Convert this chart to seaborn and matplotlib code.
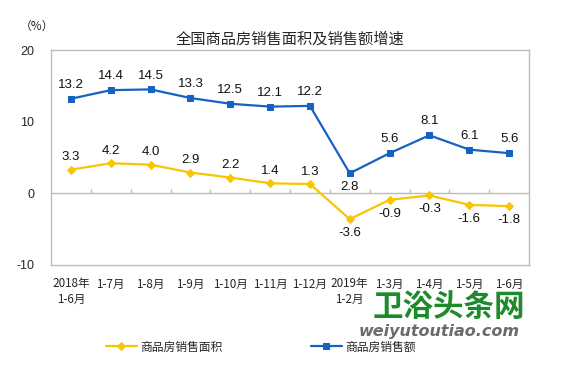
import matplotlib
matplotlib.use("Agg")
import matplotlib.pyplot as plt
import seaborn as sns
import numpy as np
import pandas as pd

categories = ["2018年\n1-6月", "1-7月", "1-8月", "1-9月", "1-10月", "1-11月", "1-12月",
              "2019年\n1-2月", "1-3月", "1-4月", "1-5月", "1-6月"]
area_growth = [3.3, 4.2, 4.0, 2.9, 2.2, 1.4, 1.3, -3.6, -0.9, -0.3, -1.6, -1.8]
sales_growth = [13.2, 14.4, 14.5, 13.3, 12.5, 12.1, 12.2, 2.8, 5.6, 8.1, 6.1, 5.6]
area_label_pos = ["up"] * 7 + ["down"] * 5
sales_label_pos = ["up"] * 7 + ["down"] + ["up"] * 4
series_names = ["商品房销售面积", "商品房销售额"]
yticks = [-10, 0, 10, 20]

sns.set_theme(style="white")
plt.rcParams['font.family'] = ['Noto Sans CJK SC', 'DejaVu Sans']
plt.rcParams['axes.unicode_minus'] = False

YELLOW = "#F7C600"
BLUE = "#1562C2"

fig = plt.figure(figsize=(5.67, 3.65), dpi=100)
ax = fig.add_axes([0.09, 0.274, 0.843, 0.589])

x = np.arange(len(categories))
df = pd.DataFrame({"x": x, "area": area_growth, "sales": sales_growth})

sns.lineplot(data=df, x="x", y="area", ax=ax, color=YELLOW, marker="D", markersize=4.5,
             markeredgecolor=YELLOW, linewidth=1.6, label=series_names[0], legend=False)
sns.lineplot(data=df, x="x", y="sales", ax=ax, color=BLUE, marker="s", markersize=5,
             markeredgecolor=BLUE, linewidth=1.6, label=series_names[1], legend=False)

lab_font = dict(family=['Liberation Sans', 'DejaVu Sans'], fontsize=9.5, color="#111111")
for xi, v, p in zip(x, area_growth, area_label_pos):
    off = 9 if p == "up" else -10
    ax.annotate(f"{v:.1f}", (xi, v), xytext=(0, off), textcoords="offset points",
                ha="center", va="center", **lab_font)
for xi, v, p in zip(x, sales_growth, sales_label_pos):
    off = 10 if p == "up" else -10
    ax.annotate(f"{v:.1f}", (xi, v), xytext=(0, off), textcoords="offset points",
                ha="center", va="center", **lab_font)

ax.set_xlim(-0.5, len(categories) - 0.5)
ax.set_ylim(-10, 20)
ax.set_yticks(yticks)
ax.set_yticklabels([str(t) for t in yticks], family=['Liberation Sans', 'DejaVu Sans'], fontsize=9)
ax.set_xticks(x)
ax.set_xticklabels(categories, fontsize=8.4, linespacing=1.25)
ax.tick_params(axis="x", length=0, pad=9)
ax.tick_params(axis="y", length=0, pad=12)
ax.set_xlabel("")
ax.set_ylabel("")

for s in ax.spines.values():
    s.set_color("#BBBBBB")
    s.set_linewidth(1.0)

ax.axhline(0, color="#BBBBBB", linewidth=1.0, zorder=1)
bounds = np.arange(0.5, len(categories) - 0.5, 1.0)
ax.vlines(bounds, 0, 0.6, color="#BBBBBB", linewidth=1.0, zorder=1)

fig.text(0.512, 0.893, "全国商品房销售面积及销售额增速", ha="center", va="center", fontsize=11)
fig.text(0.065, 0.928, "（%）", ha="center", va="center", fontsize=8.5)

handles, labels = ax.get_legend_handles_labels()
fig.legend(handles, labels, loc="center", bbox_to_anchor=(0.46, 0.049), ncol=2, frameon=False,
           fontsize=8.5, handlelength=2.6, columnspacing=7.5, handletextpad=0.3)

fig.text(0.792, 0.158, "卫浴头条网", ha="center", va="center", fontsize=22, fontweight="heavy",
         color="#1D8A2B", style="italic")
fig.text(0.775, 0.093, "weiyutoutiao.com", ha="center", va="center", fontsize=11.5,
         fontweight="bold", style="italic", color="#6B6B6B", family=['DejaVu Sans'])

fig.savefig("out.png", dpi=100)
